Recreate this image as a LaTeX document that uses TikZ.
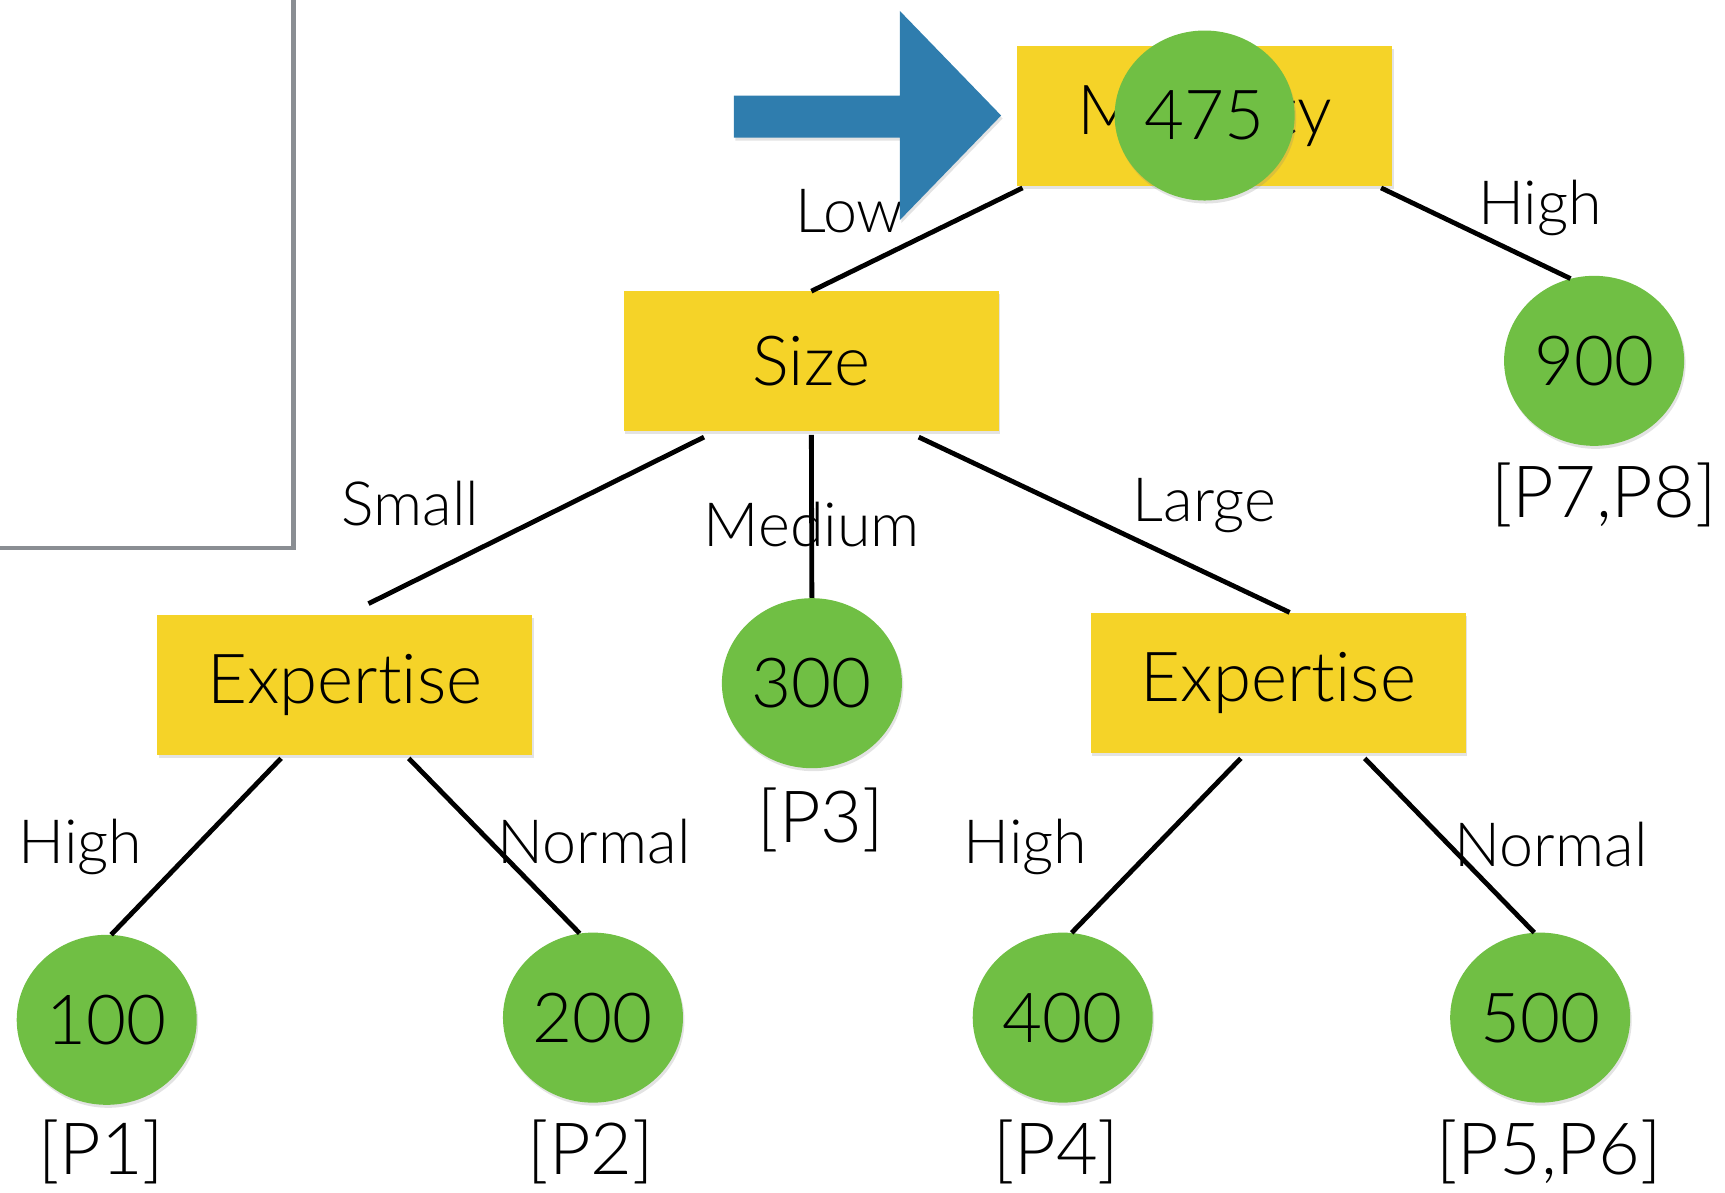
\documentclass[tikz,border=0pt]{standalone}
\usepackage{fontspec}
\setmainfont{Lato}[UprightFont={* Light},Ligatures=NoCommon]
\usetikzlibrary{shapes.geometric,shadows,calc}
\definecolor{boxyellow}{HTML}{F5D328}
\definecolor{leafgreen}{HTML}{70BF44}
\definecolor{arrowblue}{HTML}{2F7DAE}
\definecolor{framegray}{HTML}{8A8E93}

\begin{document}
\begin{tikzpicture}[x=1.1pt,y=-1.1pt,
  softshadow/.style={drop shadow={opacity=0.22,shadow xshift=1.5pt,shadow yshift=-3pt}},
  testbox/.style={rectangle,fill=boxyellow,softshadow,minimum width=375pt,minimum height=140pt,inner sep=0pt,font=\fontsize{69}{80}\selectfont},
  leaf/.style={ellipse,fill=leafgreen,softshadow,minimum width=180pt,minimum height=170pt,inner sep=0pt,font=\fontsize{69}{80}\selectfont},
  edgelabel/.style={font=\fontsize{61}{70}\selectfont,inner sep=0pt},
  members/.style={font=\fontsize{72}{80}\selectfont,inner sep=0pt},
  branch/.style={line width=4.8pt,black}
]
\path[use as bounding box] (0,0) rectangle (1568,1084);

% frame of the neighbouring panel
\draw[framegray,line width=4.5pt] (267,-10) -- (267,498) -- (-10,498);

% decision nodes
\node[testbox] (maj)  at (1095,105) {Maturity};
\node[testbox] (size) at (737.5,328.5) {Size};
\node[testbox] (expL) at (313.5,622.5) {Expertise};
\node[testbox] (expR) at (1162,620.5) {Expertise};

% leaves
\node[leaf] (c475) at (1095,105) {475};
\node[leaf] (c900) at (1449,328) {900};
\node[leaf] (c300) at (738,621) {300};
\node[leaf] (c100) at (97,927) {100};
\node[leaf] (c200) at (539,925) {200};
\node[leaf] (c400) at (966,925) {400};
\node[leaf] (c500) at (1400,925) {500};

% branch labels
\node[edgelabel] (lLow)    at (772,192)  {Low};
\node[edgelabel] (lHigh)   at (1400,189) {High};
\node[edgelabel] (lSmall)  at (373,458)  {Small};
\node[edgelabel] (lMedium) at (738,477)  {Medium};
\node[edgelabel] (lLarge)  at (1095,460) {Large};
\node[edgelabel] (lHigh2)  at (73,770)   {High};
\node[edgelabel] (lNorm)   at (540,765)  {Normal};
\node[edgelabel] (lHigh3)  at (932,770)  {High};
\node[edgelabel] (lNorm2)  at (1410,768) {Normal};

% leaf members
\node[members] (m78) at (1458,450)  {[P7,P8]};
\node[members] (m3)  at (746,745)   {[P3]};
\node[members] (m1)  at (92,1047)   {[P1]};
\node[members] (m2)  at (537,1047)  {[P2]};
\node[members] (m4)  at (960,1047)  {[P4]};
\node[members] (m56) at (1408,1047) {[P5,P6]};

% branches
\draw[branch] ($(maj.south west)!0.015!(maj.south east)+(0,2)$) -- (size.north);
\draw[branch] ($(maj.south west)!0.97!(maj.south east)+(0,2)$) -- (c900.106);
\draw[branch] ($(size.south west)!0.214!(size.south east)+(0,5)$) -- ($(expL.north west)!0.563!(expL.north east)+(0,-10)$);
\draw[branch] ($(size.south west)!0.5!(size.south east)+(0,3)$) -- (c300.north);
\draw[branch] ($(size.south west)!0.786!(size.south east)+(0,5)$) -- ($(expR.north west)!0.53!(expR.north east)$);
\draw[branch] ($(expL.south west)!0.33!(expL.south east)+(0,3)$) -- (c100.87);
\draw[branch] ($(expL.south west)!0.67!(expL.south east)+(0,3)$) -- (c200.99);
\draw[branch] ($(expR.south west)!0.4!(expR.south east)+(0,5)$) -- (c400.84);
\draw[branch] ($(expR.south west)!0.73!(expR.south east)+(0,5)$) -- (c500.94);

% pointer arrow
\fill[arrowblue,softshadow] (667,87) -- (818,87) -- (818,10) -- (910,105) -- (818,200) -- (818,125) -- (667,125) -- cycle;
\end{tikzpicture}
\end{document}
